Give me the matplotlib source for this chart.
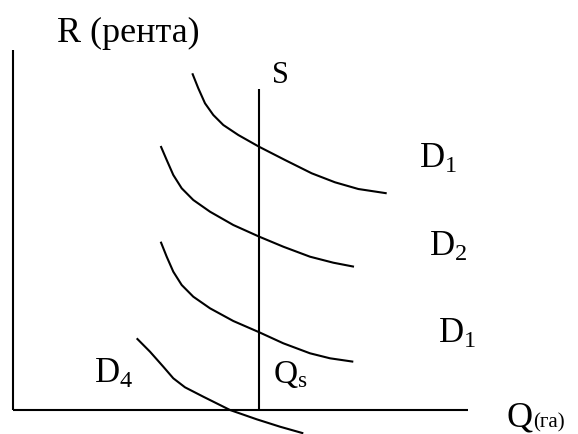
import matplotlib
matplotlib.use("Agg")
import matplotlib.pyplot as plt

plt.rcParams['font.family'] = ['Liberation Serif', 'DejaVu Serif']
plt.rcParams['mathtext.fontset'] = 'custom'
plt.rcParams['mathtext.rm'] = 'Liberation Serif'
plt.rcParams['mathtext.it'] = 'Liberation Serif'

# Demand curves (Q, R)
d1_q = [17.93, 18.53, 19.2, 20.03, 21.03, 22.53, 24.6, 27.2, 29.87, 32.2, 34.53, 37.37]
d1_r = [33.67, 32.17, 30.67, 29.5, 28.5, 27.5, 26.33, 25.0, 23.67, 22.77, 22.1, 21.67]
d2_q = [14.77, 15.37, 16.03, 16.87, 18.03, 19.7, 22.03, 24.63, 27.03, 29.7, 32.03, 34.1]
d2_r = [26.4, 25.0, 23.5, 22.17, 21.0, 19.83, 18.5, 17.33, 16.33, 15.33, 14.73, 14.33]
d3_q = [14.77, 15.37, 16.03, 16.87, 18.03, 19.7, 22.03, 24.63, 27.03, 29.7, 31.7, 34.03]
d3_r = [16.83, 15.33, 13.83, 12.5, 11.33, 10.17, 8.9, 7.77, 6.67, 5.67, 5.17, 4.83]
d4_q = [12.37, 13.7, 15.03, 16.03, 17.2, 19.03, 21.7, 24.37, 26.7, 29.03]
d4_r = [7.17, 5.83, 4.33, 3.17, 2.27, 1.33, 0.0, -0.93, -1.67, -2.33]

supply_q = 24.6
supply_r = [0, 32.1]
axis_q_max = 45.5
axis_r_max = 36.0

fig = plt.figure(figsize=(5.78, 4.34), dpi=100)
ax = fig.add_axes([0, 0, 1, 1])
ax.set_xlim(-1.3, 56.5)
ax.set_ylim(-2.4, 41.0)
ax.axis('off')

lw = 1.5
ax.plot([0, 0], [0, axis_r_max], color='black', lw=lw, solid_capstyle='butt')
ax.plot([0, axis_q_max], [0, 0], color='black', lw=lw, solid_capstyle='butt')
ax.plot([supply_q, supply_q], supply_r, color='black', lw=lw, solid_capstyle='butt')

for q, r in [(d1_q, d1_r), (d2_q, d2_r), (d3_q, d3_r), (d4_q, d4_r)]:
    ax.plot(q, r, color='black', lw=lw, solid_joinstyle='round', solid_capstyle='butt')

fs = 25
ax.text(4.4, 36.8, 'R (рента)', fontsize=26, ha='left', va='baseline')
ax.text(25.9, 32.7, 'S', fontsize=22, ha='left', va='baseline')
ax.text(40.6, 24.2, r'$\mathrm{D}_{1}$', fontsize=fs, ha='left', va='baseline')
ax.text(41.6, 15.4, r'$\mathrm{D}_{2}$', fontsize=fs, ha='left', va='baseline')
ax.text(42.5, 6.7, r'$\mathrm{D}_{1}$', fontsize=fs, ha='left', va='baseline')
ax.text(8.1, 2.7, r'$\mathrm{D}_{4}$', fontsize=fs, ha='left', va='baseline')
ax.text(26.0, 2.7, r'$\mathrm{Q}_{\mathrm{s}}$', fontsize=24, ha='left', va='baseline')
ax.text(49.4, -1.7, 'Q', fontsize=26, ha='left', va='baseline')
ax.text(52.0, -1.7, '(га)', fontsize=15, ha='left', va='baseline')

fig.savefig('out.png', dpi=100)
